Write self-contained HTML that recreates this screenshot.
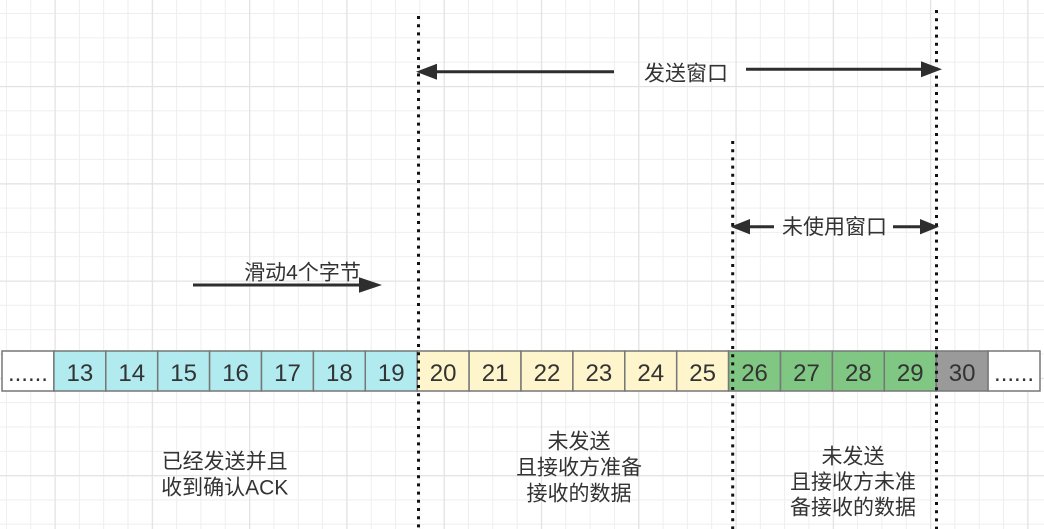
<!DOCTYPE html>
<html>
<head>
<meta charset="utf-8">
<style>
  html, body { margin: 0; padding: 0; background: #fff; }
  body { width: 1044px; height: 529px; overflow: hidden; }
  svg { display: block; }
  .num { font-family: "Liberation Sans", "Noto Sans CJK SC", sans-serif; font-size: 24px; fill: #333; text-anchor: middle; }
  .lbl { font-family: "Liberation Sans", "Noto Sans CJK SC", sans-serif; font-size: 21px; fill: #333; text-anchor: middle; dominant-baseline: central; }
</style>
</head>
<body>
<svg width="1044" height="529" viewBox="0 0 1044 529" xmlns="http://www.w3.org/2000/svg">
  <defs>
    <pattern id="minor" patternUnits="userSpaceOnUse" x="5.9" y="13" width="24.32" height="24.32">
      <rect x="0" y="0" width="1" height="24.32" fill="#eeeeee"/>
      <rect x="0" y="0" width="24.32" height="1" fill="#eeeeee"/>
    </pattern>
    <pattern id="major" patternUnits="userSpaceOnUse" x="54.5" y="86" width="97.28" height="97.28">
      <rect x="0" y="0" width="1.2" height="97.28" fill="#e2e2e2"/>
      <rect x="0" y="0" width="97.28" height="1.2" fill="#e2e2e2"/>
    </pattern>
  </defs>
  <rect x="0" y="0" width="1044" height="529" fill="#ffffff"/>
  <rect x="0" y="0" width="1044" height="529" fill="url(#minor)"/>
  <rect x="0" y="0" width="1044" height="529" fill="url(#major)"/>

  <!-- cells -->
  <g stroke="#777" stroke-width="1.5">
    <rect x="2" y="351" width="51.9" height="40" fill="#ffffff"/>
    <rect x="53.9" y="351" width="51.9" height="40" fill="#b1ebef"/>
    <rect x="105.8" y="351" width="51.9" height="40" fill="#b1ebef"/>
    <rect x="157.7" y="351" width="51.9" height="40" fill="#b1ebef"/>
    <rect x="209.6" y="351" width="51.9" height="40" fill="#b1ebef"/>
    <rect x="261.5" y="351" width="51.9" height="40" fill="#b1ebef"/>
    <rect x="313.4" y="351" width="51.9" height="40" fill="#b1ebef"/>
    <rect x="365.3" y="351" width="51.9" height="40" fill="#b1ebef"/>
    <rect x="417.2" y="351" width="51.9" height="40" fill="#fff5cc"/>
    <rect x="469.1" y="351" width="51.9" height="40" fill="#fff5cc"/>
    <rect x="521" y="351" width="51.9" height="40" fill="#fff5cc"/>
    <rect x="572.9" y="351" width="51.9" height="40" fill="#fff5cc"/>
    <rect x="624.8" y="351" width="51.9" height="40" fill="#fff5cc"/>
    <rect x="676.7" y="351" width="51.9" height="40" fill="#fff5cc"/>
    <rect x="728.6" y="351" width="51.9" height="40" fill="#7fc782"/>
    <rect x="780.5" y="351" width="51.9" height="40" fill="#7fc782"/>
    <rect x="832.4" y="351" width="51.9" height="40" fill="#7fc782"/>
    <rect x="884.3" y="351" width="51.9" height="40" fill="#7fc782"/>
    <rect x="936.2" y="351" width="51.9" height="40" fill="#9a9a9a"/>
    <rect x="988.1" y="351" width="51.9" height="40" fill="#ffffff"/>
  </g>
  <g>
    <text class="num" x="27.95" y="381">......</text>
    <text class="num" x="79.85" y="381">13</text>
    <text class="num" x="131.75" y="381">14</text>
    <text class="num" x="183.65" y="381">15</text>
    <text class="num" x="235.55" y="381">16</text>
    <text class="num" x="287.45" y="381">17</text>
    <text class="num" x="339.35" y="381">18</text>
    <text class="num" x="391.25" y="381">19</text>
    <text class="num" x="443.15" y="381">20</text>
    <text class="num" x="495.05" y="381">21</text>
    <text class="num" x="546.95" y="381">22</text>
    <text class="num" x="598.85" y="381">23</text>
    <text class="num" x="650.75" y="381">24</text>
    <text class="num" x="702.65" y="381">25</text>
    <text class="num" x="754.55" y="381">26</text>
    <text class="num" x="806.45" y="381">27</text>
    <text class="num" x="858.35" y="381">28</text>
    <text class="num" x="910.25" y="381">29</text>
    <text class="num" x="962.15" y="381">30</text>
    <text class="num" x="1014.05" y="381">......</text>
  </g>

  <!-- dotted vertical lines -->
  <g stroke="#111" stroke-width="3" stroke-dasharray="3 5.2" fill="none">
    <line x1="418.5" y1="16" x2="418.5" y2="529"/>
    <line x1="732.7" y1="141" x2="732.7" y2="529"/>
    <line x1="936.5" y1="10" x2="936.5" y2="529"/>
  </g>

  <!-- arrows -->
  <g stroke="#2e2e2e" stroke-width="3" fill="none">
    <line x1="614" y1="71.7" x2="432" y2="71.7"/>
    <line x1="746" y1="69.3" x2="925" y2="69.3"/>
    <line x1="774" y1="226.7" x2="746" y2="226.7"/>
    <line x1="893" y1="226.7" x2="925" y2="226.7"/>
    <line x1="193" y1="285" x2="362" y2="285"/>
  </g>
  <g fill="#2e2e2e">
    <polygon points="416,71.7 437,63.7 437,79.7"/>
    <polygon points="942,69.3 921,61.3 921,77.3"/>
    <polygon points="730.5,226.7 750,219 750,234.4"/>
    <polygon points="939,226.7 920,219 920,234.4"/>
    <polygon points="382,285 359,277.3 359,292.7"/>
  </g>
  <text class="lbl" x="686" y="74">发送窗口</text>
  <text class="lbl" x="834.5" y="227.3">未使用窗口</text>
  <text class="lbl" x="302.5" y="273">滑动4个字节</text>

  <!-- bottom labels -->
  <text class="lbl" x="224.7" y="462">已经发送并且</text>
  <text class="lbl" x="224.7" y="488">收到确认ACK</text>

  <text class="lbl" x="579" y="442">未发送</text>
  <text class="lbl" x="579" y="468">且接收方准备</text>
  <text class="lbl" x="579" y="494">接收的数据</text>

  <text class="lbl" x="853" y="457">未发送</text>
  <text class="lbl" x="853" y="482.5">且接收方未准</text>
  <text class="lbl" x="853" y="508">备接收的数据</text>
</svg>
</body>
</html>
